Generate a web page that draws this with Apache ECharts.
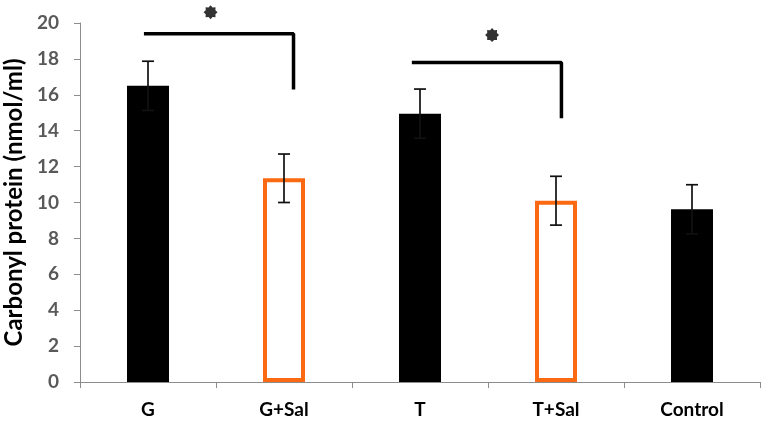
<!DOCTYPE html>
<html><head><meta charset="utf-8">
<script src="https://cdn.jsdelivr.net/npm/echarts@6/dist/echarts.min.js"></script>
<style>html,body{margin:0;padding:0;background:#fff}#c{width:766px;height:424px}</style>
</head><body><div id="c"></div>
<script>
const categories = ['G', 'G+Sal', 'T', 'T+Sal', 'Control'];
const means = [16.5, 11.35, 14.95, 10.1, 9.62];
const sds = [1.37, 1.35, 1.37, 1.36, 1.37];
const hollow = [false, true, false, true, false];
const yTicks = [0, 20, 2]; // min, max, step
const bracket1 = [[-0.03, 19.4], [1.07, 19.4], [1.07, 16.3]];
const bracket2 = [[1.94, 17.8], [3.04, 17.8], [3.04, 14.7]];
const stars = [[0.46, 20.6], [2.53, 19.33]];

const ORANGE = '#fb6a12';
function starPath() {
  let pts = [];
  for (let i = 0; i < 16; i++) {
    const r = i % 2 === 0 ? 10 : 7.5;
    const a = Math.PI * i / 8 - Math.PI / 2;
    pts.push((10 + r * Math.cos(a)).toFixed(2) + ' ' + (10 + r * Math.sin(a)).toFixed(2));
  }
  return 'path://M' + pts.join(' L') + ' Z';
}

const chart = echarts.init(document.getElementById('c'), null, {renderer: 'canvas'});
chart.setOption({
  animation: false,
  grid: {left: 80, top: 23, right: 6, bottom: 42, containLabel: false, outerBoundsMode: 'none'},
  xAxis: [{
    type: 'category', data: categories,
    axisLine: {onZero: false, lineStyle: {color: '#8c8c8c', width: 1}},
    axisTick: {show: true, length: 6, lineStyle: {color: '#8c8c8c'}},
    axisLabel: {color: '#000', fontWeight: 'bold', fontSize: 19, fontFamily: 'Lato', margin: 18}
  }, {
    type: 'value', min: -0.5, max: 4.5, show: false,
    axisLine: {show: false, onZero: false}, axisTick: {show: false}, axisLabel: {show: false}, splitLine: {show: false}
  }],
  yAxis: {
    type: 'value', min: yTicks[0], max: yTicks[1], interval: yTicks[2],
    name: 'Carbonyl protein (nmol/ml)', nameLocation: 'middle', nameGap: 45,
    nameTextStyle: {color: '#000', fontWeight: 'bold', fontSize: 24, fontFamily: 'Lato'},
    axisLine: {show: true, onZero: false, lineStyle: {color: '#8c8c8c', width: 1}},
    axisTick: {show: true, length: 6, lineStyle: {color: '#8c8c8c'}},
    splitLine: {show: false},
    axisLabel: {color: '#595959', fontWeight: 'bold', fontSize: 19, fontFamily: 'Lato', margin: 21}
  },
  series: [{
    type: 'bar', barWidth: 42, xAxisIndex: 0,
    data: means.map((v, i) => ({
      value: v,
      itemStyle: hollow[i] ? {color: '#fff', borderColor: ORANGE, borderWidth: 4} : {color: '#000'}
    }))
  }, {
    type: 'custom', xAxisIndex: 0, z: 5,
    data: means.map((v, i) => [i, v - sds[i], v + sds[i]]),
    renderItem: function (params, api) {
      const lo = api.coord([api.value(0), api.value(1)]);
      const hi = api.coord([api.value(0), api.value(2)]);
      const w = 6;
      const st = {stroke: '#111', lineWidth: 1.7};
      return {type: 'group', children: [
        {type: 'line', shape: {x1: hi[0], y1: hi[1], x2: lo[0], y2: lo[1]}, style: st},
        {type: 'line', shape: {x1: hi[0] - w, y1: hi[1], x2: hi[0] + w, y2: hi[1]}, style: st},
        {type: 'line', shape: {x1: lo[0] - w, y1: lo[1], x2: lo[0] + w, y2: lo[1]}, style: st}
      ]};
    }
  }, {
    type: 'line', xAxisIndex: 1, data: bracket1, symbol: 'none', clip: false,
    lineStyle: {color: '#000', width: 3.5}
  }, {
    type: 'line', xAxisIndex: 1, data: bracket2, symbol: 'none', clip: false,
    lineStyle: {color: '#000', width: 3.5}
  }, {
    type: 'scatter', xAxisIndex: 1, data: stars, clip: false,
    symbol: starPath(), symbolSize: 14, itemStyle: {color: '#000'}
  }]
});
</script></body></html>
